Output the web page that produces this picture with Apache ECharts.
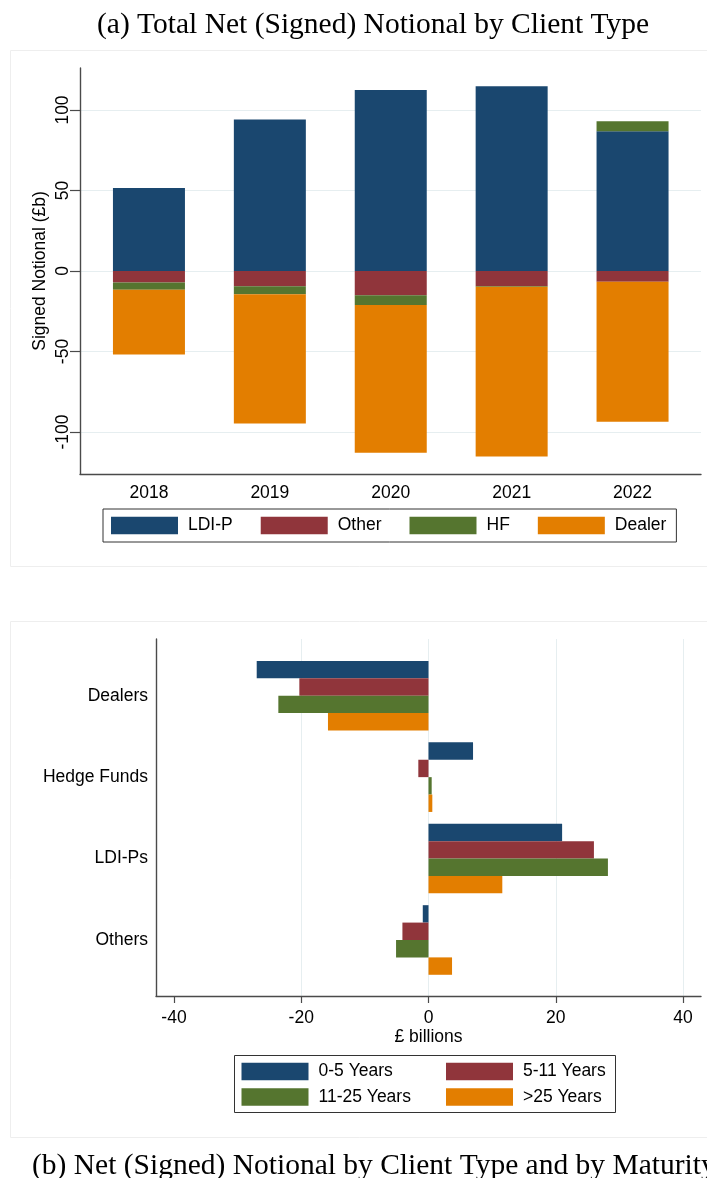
<!DOCTYPE html>
<html>
<head>
<meta charset="utf-8">
<script src="https://cdn.jsdelivr.net/npm/echarts@6/dist/echarts.min.js"></script>
<style>
  html, body { margin: 0; padding: 0; background: #ffffff; }
  #chart { width: 707px; height: 1178px; }
</style>
</head>
<body>
<div id="chart"></div>
<script>
// Panel (a): net signed notional by client type, £bn
const years = ['2018', '2019', '2020', '2021', '2022'];
const ldiP = [51.5, 94.0, 112.4, 114.7, 86.8];
const other = [-7.2, -9.5, -15.1, -9.3, -6.6];
const hf = [-4.4, -5.0, -6.0, -0.5, 6.2];
const dealer = [-40.3, -80.1, -91.7, -105.3, -86.9];
const panelATicks = { min: -100, max: 100, interval: 50 };

// Panel (b): net signed notional by client type and maturity bucket, £bn
const clientTypes = ['Dealers', 'Hedge Funds', 'LDI-Ps', 'Others'];
const mat0to5 = [-27.0, 7.0, 21.0, -0.9];
const mat5to11 = [-20.3, -1.6, 26.0, -4.1];
const mat11to25 = [-23.6, 0.5, 28.2, -5.1];
const mat25plus = [-15.8, 0.6, 11.6, 3.7];
const panelBTicks = { min: -40, max: 40, interval: 20 };

const NAVY = '#1a476f', MAROON = '#90353b', GREEN = '#55752f', ORANGE = '#e37e00';
const GRID_COLOR = '#e6eef0';
const AXIS_COLOR = '#4a4a4a';
const SANS = 'Liberation Sans, Arial, sans-serif';
const SERIF = 'Liberation Serif, Times New Roman, serif';
const FS = 17.5;

const chart = echarts.init(document.getElementById('chart'), null, { renderer: 'canvas' });

// axis that only draws its line
function lineOnlyAxis(gridIndex, extra) {
  return Object.assign({
    gridIndex, type: 'value', min: 0, max: 1,
    axisLine: { show: true, onZero: false, lineStyle: { color: AXIS_COLOR, width: 1.4 } },
    axisTick: { show: false }, axisLabel: { show: false }, splitLine: { show: false }
  }, extra || {});
}
function hiddenAxis(gridIndex, extra) {
  return Object.assign({ gridIndex, type: 'value', show: false, splitLine: { show: false } }, extra || {});
}

const legendText = { fontFamily: SANS, fontSize: FS, color: '#000', lineHeight: 18, padding: [0, 0, 0, 5] };

const option = {
  backgroundColor: '#ffffff',
  animation: false,
  title: [
    { text: '(a) Total Net (Signed) Notional by Client Type', left: 92, top: 5,
      textStyle: { fontFamily: SERIF, fontSize: 29.5, fontWeight: 'normal', color: '#000' } },
    { text: '(b) Net (Signed) Notional by Client Type and by Maturity', left: 27, top: 1146,
      textStyle: { fontFamily: SERIF, fontSize: 29.5, fontWeight: 'normal', color: '#000' } }
  ],
  graphic: [
    { type: 'rect', silent: true, z: -10, shape: { x: 10.5, y: 50.5, width: 720, height: 516 },
      style: { fill: 'none', stroke: '#eeeeee', lineWidth: 1 } },
    { type: 'rect', silent: true, z: -10, shape: { x: 10.5, y: 621.5, width: 720, height: 516 },
      style: { fill: 'none', stroke: '#eeeeee', lineWidth: 1 } },
    { type: 'rect', silent: true, z: 5, shape: { x: 234.5, y: 1055.5, width: 381, height: 57 },
      style: { fill: 'none', stroke: '#333', lineWidth: 1 } }
  ],
  legend: [
    { data: ['LDI-P', 'Other', 'HF', 'Dealer'], left: 103, top: 509, orient: 'horizontal',
      itemWidth: 67, itemHeight: 17.5, itemGap: 28, padding: [7.5, 10, 7.5, 8],
      borderColor: '#333', borderWidth: 1, icon: 'rect', selectedMode: false,
      textStyle: legendText },
    { data: ['0-5 Years', '11-25 Years'], left: 241.5, top: 1062.5, orient: 'vertical',
      itemWidth: 67, itemHeight: 17.5, itemGap: 7.5, padding: 0, icon: 'rect', selectedMode: false,
      textStyle: legendText },
    { data: ['5-11 Years', '>25 Years'], left: 446, top: 1062.5, orient: 'vertical',
      itemWidth: 67, itemHeight: 17.5, itemGap: 7.5, padding: 0, icon: 'rect', selectedMode: false,
      textStyle: legendText }
  ],
  grid: [
    // panel (a): axis frame, bar area, tick/grid area
    { left: 80, width: 621, top: 68, height: 406 },
    { left: 88.5, width: 604.5, top: 68, height: 406 },
    { left: 80, width: 621, top: 110, height: 322 },
    // panel (b): axis frame, bar area, tick/grid area
    { left: 156, width: 545, top: 639, height: 357 },
    { left: 174, width: 509, top: 655, height: 325.7 },
    { left: 174, width: 509, top: 639, height: 357 }
  ],
  xAxis: [
    lineOnlyAxis(0),
    { gridIndex: 1, type: 'category', data: years, boundaryGap: true,
      axisLine: { show: false }, axisTick: { show: false },
      axisLabel: { margin: 10, fontFamily: SANS, fontSize: FS, color: '#000' } },
    hiddenAxis(2, { min: 0, max: 1 }),
    lineOnlyAxis(3),
    hiddenAxis(4, { min: panelBTicks.min, max: panelBTicks.max }),
    { gridIndex: 5, type: 'value', min: panelBTicks.min, max: panelBTicks.max, interval: panelBTicks.interval,
      axisLine: { show: false },
      axisTick: { show: true, length: 7, lineStyle: { color: AXIS_COLOR, width: 1.2 } },
      axisLabel: { margin: 13, fontFamily: SANS, fontSize: FS, color: '#000' },
      splitLine: { show: true, lineStyle: { color: ['rgba(0,0,0,0)', GRID_COLOR, GRID_COLOR, GRID_COLOR, GRID_COLOR], width: 1 } },
      name: '£ billions', nameLocation: 'middle', nameGap: 32,
      nameTextStyle: { fontFamily: SANS, fontSize: FS, color: '#000' } }
  ],
  yAxis: [
    lineOnlyAxis(0),
    hiddenAxis(1, { min: -126, max: 126 }),
    { gridIndex: 2, type: 'value', min: panelATicks.min, max: panelATicks.max, interval: panelATicks.interval,
      axisLine: { show: false },
      axisTick: { show: true, length: 10, lineStyle: { color: AXIS_COLOR, width: 1.2 } },
      axisLabel: { rotate: 90, margin: 8, fontFamily: SANS, fontSize: FS, color: '#000' },
      splitLine: { show: true, lineStyle: { color: GRID_COLOR, width: 1 } },
      name: 'Signed Notional (£b)', nameLocation: 'middle', nameRotate: 90, nameGap: 31,
      nameMoveOverlap: false,
      nameTextStyle: { fontFamily: SANS, fontSize: FS, color: '#000' } },
    lineOnlyAxis(3),
    { gridIndex: 4, type: 'category', data: clientTypes, inverse: true,
      axisLine: { show: false }, axisTick: { show: false },
      axisLabel: { margin: 26, fontFamily: SANS, fontSize: FS, color: '#000' } },
    hiddenAxis(5, { min: 0, max: 1 })
  ],
  series: [
    { name: 'LDI-P', type: 'bar', stack: 'net', xAxisIndex: 1, yAxisIndex: 1, barWidth: 72,
      itemStyle: { color: NAVY }, data: ldiP },
    { name: 'Other', type: 'bar', stack: 'net', xAxisIndex: 1, yAxisIndex: 1, barWidth: 72,
      itemStyle: { color: MAROON }, data: other },
    { name: 'HF', type: 'bar', stack: 'net', xAxisIndex: 1, yAxisIndex: 1, barWidth: 72,
      itemStyle: { color: GREEN }, data: hf },
    { name: 'Dealer', type: 'bar', stack: 'net', xAxisIndex: 1, yAxisIndex: 1, barWidth: 72,
      itemStyle: { color: ORANGE }, data: dealer },

    { name: '0-5 Years', type: 'bar', xAxisIndex: 4, yAxisIndex: 4, barWidth: 17.4, barGap: '0%',
      itemStyle: { color: NAVY }, data: mat0to5 },
    { name: '5-11 Years', type: 'bar', xAxisIndex: 4, yAxisIndex: 4, barWidth: 17.4, barGap: '0%',
      itemStyle: { color: MAROON }, data: mat5to11 },
    { name: '11-25 Years', type: 'bar', xAxisIndex: 4, yAxisIndex: 4, barWidth: 17.4, barGap: '0%',
      itemStyle: { color: GREEN }, data: mat11to25 },
    { name: '>25 Years', type: 'bar', xAxisIndex: 4, yAxisIndex: 4, barWidth: 17.4, barGap: '0%',
      itemStyle: { color: ORANGE }, data: mat25plus }
  ]
};

chart.setOption(option);
</script>
</body>
</html>
